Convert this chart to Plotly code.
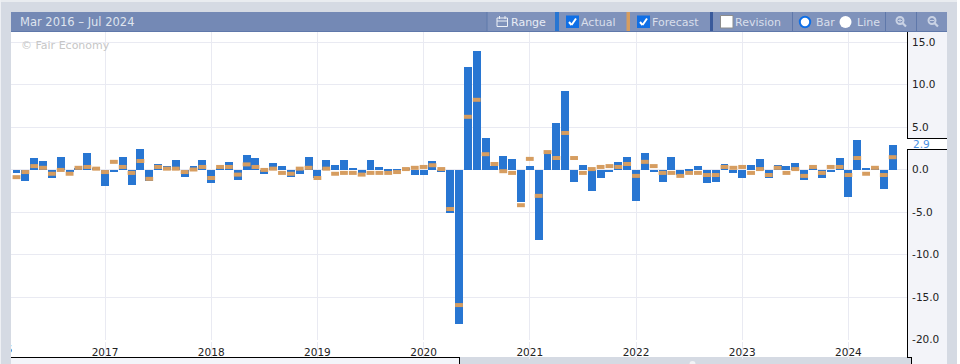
import plotly.graph_objects as go

months = [f"{y}-{m:02d}" for y in range(2016, 2025) for m in range(1, 13)][2:102]

actual = [
    -0.4, -1.3, 1.35, 1.0, -1.0, 1.5, -0.3, 0.1, 1.9, 0.1,
    -1.9, -0.3, 1.5, -1.8, 2.4, -1.3, 0.6, 0.4, 1.1, -0.9, 0.4, 1.1,
    -1.6, 0.1, 0.9, -1.2, 1.7, 1.35, -0.5, 0.8, 0.4, -0.9, -0.5, 1.5,
    -1.0, 1.1, 0.5, 1.1, 0.1, -0.4, 1.1, 0.3, -0.2, -0.1, 0.1, -0.6,
    -0.6, 1.0, -0.3, -5.1, -18.2, 12.05, 13.95, 3.7, 0.4, 1.6, 1.25, -3.8,
    0.4, -8.3, 1.8, 5.45, 9.25, -1.5, 0.5, -2.55, -1.0, -0.3, 0.9, 1.5,
    -3.7, 1.95, -0.3, -1.45, 1.5, -0.7, -0.2, 0.4, -1.6, -1.45, 0.65, -0.4,
    -1.0, 0.5, 1.2, -1.0, 0.5, 0.4, 0.75, -1.25, 0.1, -1.0, -0.3, 1.35,
    -3.2, 3.45, 0.1, 0.1, -2.3, 2.9,
]
forecast = [
    -0.9, -0.3, 0.4, 0.2, -0.5, -0.05, -0.5, 0.2, 0.3, 0.1,
    -0.3, 0.9, 0.3, -0.4, 1.0, -1.1, 0.3, 0.1, 0.1, -0.3, 0.0, 0.3,
    -1.0, 0.3, 0.3, -0.6, 0.6, 0.3, -0.05, 0.1, -0.4, -0.5, 0.1, 0.2,
    -1.0, 0.1, -0.5, -0.4, -0.4, -0.6, -0.4, -0.4, -0.4, -0.3, 0.05, 0.2,
    0.3, 0.5, 0.05, -4.65, -15.95, 6.2, 8.2, 1.8, 0.65, -0.2, -0.4, -4.2,
    1.25, -3.1, 2.05, 1.35, 4.3, 1.35, -0.4, 0.05, 0.3, 0.4, 0.3, 0.65,
    -0.75, 0.9, 0.4, -0.4, -0.4, -0.75, -0.4, -0.4, -0.65, -0.65, 0.3, 0.2,
    0.3, -0.4, 0.05, -0.65, 0.2, -0.4, 0.05, -0.75, 0.3, -0.4, 0.3, 0.3,
    -0.65, 1.35, -0.5, 0.2, -0.65, 1.45,
]
year_ticks = [10, 22, 34, 46, 58, 70, 82, 94]
year_labels = ["2017", "2018", "2019", "2020", "2021", "2022", "2023", "2024"]
y_ticks = [-20, -15, -10, -5, 0, 5, 10, 15]
y_labels = ["-20.0", "-15.0", "-10.0", "-5.0", "0.0", "5.0", "10.0", "15.0"]

FONT = "DejaVu Sans"
PAGE = "#d5dae3"
HEAD = "#7489b5"
BTN = "#7f92bb"
SEP = "#5f78aa"
PANEL = "#f3f4f9"
GRID = "#e9eaf2"
BLUE = "#2876d2"
ORANGE = "#d69d60"
NAVY = "#3a5a9b"
TXT = "#d9dfeb"
L, R, T, B = 11, 907, 32, 364


def px(x):
    return (x - L) / (R - L)


def py(y):
    return (B - y) / (B - T)


shapes = []
annotations = []


def rect(x0, y0, x1, y1, fill, line=None, layer="below", lw=1):
    shapes.append(dict(type="rect", xref="paper", yref="paper", x0=px(x0), x1=px(x1), y0=py(y0), y1=py(y1),
                       fillcolor=fill, line=dict(color=line or fill, width=lw if line else 0), layer=layer))


def seg(x0, y0, x1, y1, color, w=1, layer="above"):
    shapes.append(dict(type="line", xref="paper", yref="paper", x0=px(x0), x1=px(x1), y0=py(y0), y1=py(y1),
                       line=dict(color=color, width=w), layer=layer))


def circ(cx, cy, r, fill, line=None, lw=0, layer="above"):
    shapes.append(dict(type="circle", xref="paper", yref="paper", x0=px(cx - r), x1=px(cx + r), y0=py(cy - r), y1=py(cy + r),
                       fillcolor=fill, line=dict(color=line or fill, width=lw), layer=layer))


def label(x, y, s, color=TXT, size=11, anchor="left"):
    annotations.append(dict(xref="paper", yref="paper", x=px(x), y=py(y), text=s, showarrow=False,
                            xanchor=anchor, yanchor="middle", font=dict(family=FONT, size=size, color=color),
                            borderpad=0, borderwidth=0))


def check(x):
    rect(x, 15.5, x + 13, 28, "#0f6fe6", layer="above")
    pts = [(x + 3, 22), (x + 5.5, 25), (x + 10, 18.5)]
    for a, b in zip(pts, pts[1:]):
        seg(a[0], a[1], b[0], b[1], "white", 2)


# page chrome
rect(0, 0, 960, 2, "#e9ecf0")
rect(957, 0, 960, 369, "#ffffff")
rect(0, 0, 1, 369, "#eef0f4")
rect(L, 340, R, 357, "#ffffff")
rect(R, T, 947, 357, PANEL)
rect(R, 138, 947, 149, "#ffffff")
rect(L, 357, 459, 369, PANEL)
rect(459, 357, 911, 369, PAGE)
rect(911, 357, 947, 369, PANEL)
seg(L, 357.5, 459, 357.5, "#000000")
seg(459.5, 357, 459.5, 369, "#000000")
seg(907, 357.5, 911.5, 357.5, "#000000")
seg(911.5, 357, 911.5, 369, "#000000")
seg(907.5, T, 907.5, 138.5, "#000000")
seg(907, 138.5, 947, 138.5, "#000000")
seg(907, 149.5, 947, 149.5, "#000000")
seg(907.5, 149, 907.5, 358, "#000000")
circ(692.5, 364, 3, "#f2f3f6", layer="below")

# header bar
rect(L, 12, 947, 31.5, HEAD)
seg(L, 31.5, 947, 31.5, SEP)
rect(487, 12, 947, 31, BTN)
for s in [487, 792.5, 885.5, 916.5]:
    seg(s, 12, s, 31, SEP)
rect(555, 12, 559, 31, BLUE, layer="above")
rect(626.5, 12, 630, 31, ORANGE, layer="above")
rect(710, 12, 713, 31, NAVY, layer="above")
label(20, 22, "Mar 2016 – Jul 2024", "#dfe4ee", 11.5)
label(21, 45, "© Fair Economy", "#c6c6c6", 11)

# range calendar glyph
shapes.append(dict(type="rect", xref="paper", yref="paper", x0=px(497), x1=px(507.5), y0=py(18), y1=py(26.5),
                   line=dict(color="#eef1f7", width=1), fillcolor="rgba(0,0,0,0)", layer="above"))
seg(497, 21, 507.5, 21, "#eef1f7", 1)
seg(499.5, 16, 499.5, 19, "#eef1f7", 1)
seg(505, 16, 505, 19, "#eef1f7", 1)
label(511, 22, "Range", "#e8ecf5")
check(566)
label(581, 22, "Actual")
check(637)
label(652, 22, "Forecast")
rect(720.5, 15.5, 733, 28, "#ffffff", line="#8d8d8d", layer="above")
label(735, 22, "Revision")
circ(805, 22, 5.2, "#ffffff", "#0f6fe6", 2)
label(816, 22, "Bar")
circ(845.5, 22, 6, "#ffffff")
label(857, 22, "Line")
for cx in [900, 932]:
    circ(cx, 20.5, 3.5, "rgba(0,0,0,0)", "#c9d2e4", 2)
    seg(cx + 2.5, 23, cx + 6, 26.5, "#c9d2e4", 2.2)
seg(898, 20.5, 902, 20.5, "#c9d2e4", 1)
seg(900, 18.5, 900, 22.5, "#c9d2e4", 1)
seg(930, 20.5, 934, 20.5, "#c9d2e4", 1)
label(912.5, 144, "2.9", "#4a90e2", 10.5)

idx = list(range(len(months)))
fig = go.Figure()
fig.add_trace(go.Bar(x=idx, y=actual, width=0.9, marker=dict(color=BLUE, line=dict(width=0)), name="Actual",
                     customdata=months, hovertemplate="%{customdata}: %{y}<extra>Actual</extra>"))
fig.add_trace(go.Scatter(x=idx, y=forecast, mode="markers", name="Forecast", customdata=months,
                         marker=dict(symbol="line-ew", size=5.6, line=dict(color=ORANGE, width=4)),
                         hovertemplate="%{customdata}: %{y}<extra>Forecast</extra>"))
# the 2016 year label, cut off by the left edge of the plot
fig.add_trace(go.Scatter(x=[-2], y=[0], yaxis="y2", mode="text", text=["2016"], cliponaxis=True,
                         textfont=dict(family=FONT, size=10.5, color="#222222"), hoverinfo="skip"))

y_unit = 8.5
fig.update_layout(
    width=960, height=369, autosize=False,
    margin=dict(l=L, r=960 - R, t=T, b=0, pad=0),
    paper_bgcolor=PAGE, plot_bgcolor="#ffffff", showlegend=False, bargap=0,
    font=dict(family=FONT, size=10.5, color="#222222"),
    shapes=shapes, annotations=annotations,
    xaxis=dict(range=[(L - 16.5) / 8.85, (R - 16.5) / 8.85], tickmode="array", tickvals=year_ticks, ticktext=year_labels,
               showgrid=True, gridcolor=GRID, gridwidth=1, zeroline=False, showline=False,
               ticks="outside", ticklen=2, tickcolor="rgba(0,0,0,0)", tickfont=dict(family=FONT, size=10.5, color="#222222")),
    yaxis=dict(domain=[24 / 332, 1], range=[(169.5 - 340) / y_unit, (169.5 - 32) / y_unit], side="right",
               tickmode="array", tickvals=y_ticks, ticktext=y_labels, showgrid=True, gridcolor=GRID, gridwidth=1,
               zeroline=False, showline=False, ticks="outside", ticklen=2, tickcolor="rgba(0,0,0,0)",
               tickfont=dict(family=FONT, size=10.5, color="#222222")),
    yaxis2=dict(domain=[5 / 332, 22 / 332], range=[-1, 1], visible=False, fixedrange=True),
)
fig.write_html("out.html", config=dict(displayModeBar=False),
               post_script="document.body.style.margin='0';document.documentElement.style.overflow='hidden';")
